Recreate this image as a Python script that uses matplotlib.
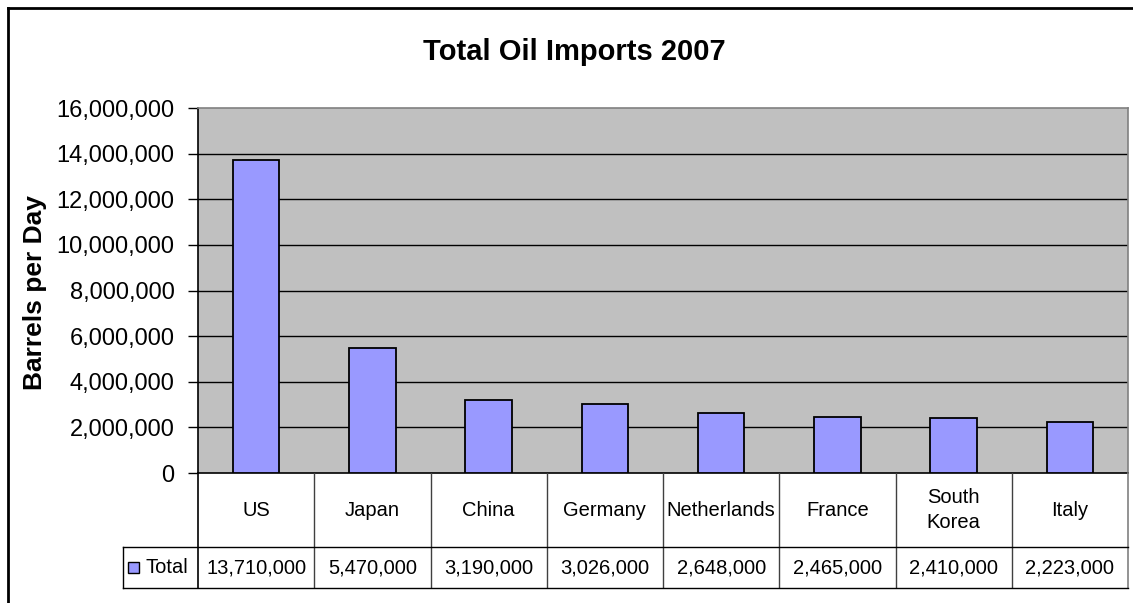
import matplotlib.pyplot as plt
from matplotlib.lines import Line2D
from matplotlib.patches import Rectangle
from matplotlib.ticker import FuncFormatter

countries = ["US", "Japan", "China", "Germany", "Netherlands", "France", "South\nKorea", "Italy"]
imports = [13710000, 5470000, 3190000, 3026000, 2648000, 2465000, 2410000, 2223000]
series_name = "Total"
y_ticks = [0, 2000000, 4000000, 6000000, 8000000, 10000000, 12000000, 14000000, 16000000]

plt.rcParams['font.family'] = ['Liberation Sans', 'DejaVu Sans']

W, H = 1133, 603
fig = plt.figure(figsize=(W / 100, H / 100), dpi=100)

def fx(px):
    return px / W

def fy(py):
    return 1 - py / H

# plot area
left, right, top, bottom = 198, 1128, 108, 473
ax = fig.add_axes([fx(left), fy(bottom), fx(right - left), (bottom - top) / H])
ax.set_facecolor("#C0C0C0")
x = list(range(len(countries)))
ax.bar(x, imports, width=0.4, color="#9999FF", edgecolor="black", linewidth=1.3, zorder=3)
ax.set_xlim(-0.5, len(countries) - 0.5)
ax.set_ylim(0, 16000000)
ax.set_yticks(y_ticks)
ax.yaxis.set_major_formatter(FuncFormatter(lambda v, p: f"{int(v):,}"))
ax.tick_params(axis="y", direction="out", length=7, width=1, pad=10, labelsize=17)
ax.set_xticks([])
for t in y_ticks[1:-1]:
    ax.axhline(t, color="black", linewidth=1, zorder=1)
ax.spines["left"].set_color("black")
ax.spines["bottom"].set_color("black")
ax.spines["top"].set_color("#808080")
ax.spines["right"].set_color("#808080")
for s in ax.spines.values():
    s.set_linewidth(1.2)

fig.text(fx(35), fy(293), "Barrels per Day", rotation=90, ha="center", va="center",
         fontsize=19, fontweight="bold")

# data table under the plot
tb_bottom, row_split = 588, 547
tax = fig.add_axes([fx(left), fy(tb_bottom), fx(right - left), (tb_bottom - bottom) / H])
tax.set_xlim(-0.5, len(countries) - 0.5)
tax.set_ylim(0, 1)
tax.axis("off")
tb_h = tb_bottom - bottom
split = (tb_bottom - row_split) / tb_h
unit = len(countries) / (right - left)
lx0 = -0.5 - (left - 123) * unit

for i in range(1, len(countries)):
    tax.plot([i - 0.5, i - 0.5], [0, 1], color="#404040", linewidth=1)
tax.plot([-0.5, -0.5], [0, 1], color="black", linewidth=1.2, clip_on=False)
tax.plot([len(countries) - 0.5] * 2, [0, 1], color="#808080", linewidth=1.2, clip_on=False)
tax.plot([lx0, len(countries) - 0.5], [split, split], color="black", linewidth=1, clip_on=False)
tax.plot([lx0, len(countries) - 0.5], [0, 0], color="black", linewidth=1, clip_on=False)
tax.plot([lx0, lx0], [0, split], color="black", linewidth=1, clip_on=False)

for i, (c, v) in enumerate(zip(countries, imports)):
    tax.text(i, (1 + split) / 2, c, ha="center", va="center", fontsize=14.5, linespacing=1.4)
    tax.text(i, split / 2, f"{v:,}", ha="center", va="center", fontsize=14.5)

# legend key in the first table cell
tax.add_patch(Rectangle((lx0 + 5 * unit, split / 2 - 5.5 / tb_h), 11 * unit, 11 / tb_h,
                        facecolor="#9999FF", edgecolor="black", linewidth=1, clip_on=False))
tax.text(lx0 + 23 * unit, split / 2, series_name, ha="left", va="center", fontsize=14.5)

fig.text(fx(574), fy(52), "Total Oil Imports 2007", ha="center", va="center",
         fontsize=21, fontweight="bold")

# chart frame
fig.add_artist(Line2D([fx(7.5), 1], [fy(7.5), fy(7.5)], color="black", linewidth=2))
fig.add_artist(Line2D([fx(7.5), fx(7.5)], [0, fy(7.5)], color="black", linewidth=2))

fig.savefig("out.png", dpi=100)
